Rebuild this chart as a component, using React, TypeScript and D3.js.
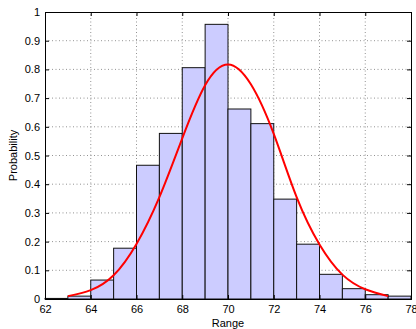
import React, { useEffect, useRef } from 'react';
import * as d3 from 'd3';

// histogram bins (left edge, width 1) and heights
const binStarts = [62, 63, 64, 65, 66, 67, 68, 69, 70, 71, 72, 73, 74, 75, 76, 77];
const binHeights = [0.002, 0.01, 0.066, 0.177, 0.466, 0.577, 0.806, 0.957, 0.662, 0.611, 0.348, 0.191, 0.086, 0.036, 0.015, 0.01];

// fitted curve
const curveX = [63, 64, 65, 66, 67, 68, 69, 70, 71, 72, 73, 74, 75, 76, 77];
const curveY = [0.01, 0.031, 0.083, 0.192, 0.355, 0.56, 0.745, 0.817, 0.748, 0.575, 0.355, 0.19, 0.085, 0.034, 0.01];

const xTicks = [62, 64, 66, 68, 70, 72, 74, 76, 78];
const yTicks = [0, 0.1, 0.2, 0.3, 0.4, 0.5, 0.6, 0.7, 0.8, 0.9, 1];

const W = 416, H = 329;
const margin = { top: 12, right: 5, bottom: 30, left: 45 };

const App = () => {
  const ref = useRef<SVGSVGElement>(null);

  useEffect(() => {
    const svg = d3.select(ref.current);
    svg.selectAll('*').remove();

    const x = d3.scaleLinear().domain([62, 78]).range([margin.left, W - margin.right]);
    const y = d3.scaleLinear().domain([0, 1]).range([H - margin.bottom, margin.top]);
    const font = 'Helvetica, Arial, "Liberation Sans", sans-serif';

    // grid
    const grid = svg.append('g').attr('stroke', '#777').attr('stroke-width', 0.8).attr('stroke-dasharray', '1,2.5');
    grid.selectAll('.gx').data(xTicks.slice(1, -1)).join('line')
      .attr('x1', d => x(d)).attr('x2', d => x(d))
      .attr('y1', y(0)).attr('y2', y(1));
    grid.selectAll('.gy').data(yTicks.slice(1, -1)).join('line')
      .attr('class', 'gy')
      .attr('x1', x(62)).attr('x2', x(78))
      .attr('y1', d => y(d)).attr('y2', d => y(d));

    // bars
    svg.append('g').selectAll('rect')
      .data(binStarts.map((s, i) => ({ s, h: binHeights[i] })))
      .join('rect')
        .attr('x', d => x(d.s))
        .attr('width', d => x(d.s + 1) - x(d.s))
        .attr('y', d => y(d.h))
        .attr('height', d => y(0) - y(d.h))
        .attr('fill', '#ccccff')
        .attr('stroke', '#111')
        .attr('stroke-width', 1);

    // curve
    const line = d3.line<number>()
      .x((d, i) => x(curveX[i]))
      .y(d => y(d))
      .curve(d3.curveNatural);
    svg.append('path')
      .attr('d', line(curveY))
      .attr('fill', 'none')
      .attr('stroke', '#ff0000')
      .attr('stroke-width', 2);

    // axes (ticks inward, boxed)
    const tl = 4;
    const bottom = svg.append('g').attr('transform', `translate(0,${y(0)})`)
      .call(d3.axisBottom(x).tickValues(xTicks).tickSize(-tl).tickPadding(6).tickFormat(d3.format('d')));
    const left = svg.append('g').attr('transform', `translate(${x(62)},0)`)
      .call(d3.axisLeft(y).tickValues(yTicks).tickSize(-tl).tickPadding(5).tickFormat(d => d === 0 || d === 1 ? String(d) : d3.format('.1f')(d as number)));
    const top = svg.append('g').attr('transform', `translate(0,${y(1)})`)
      .call(d3.axisTop(x).tickValues(xTicks).tickSize(-tl).tickFormat(() => ''));
    const right = svg.append('g').attr('transform', `translate(${x(78)},0)`)
      .call(d3.axisRight(y).tickValues(yTicks).tickSize(-tl).tickFormat(() => ''));
    [bottom, left, top, right].forEach(g => {
      g.selectAll('.domain').attr('stroke', '#000').attr('stroke-width', 1);
      g.selectAll('line').attr('stroke', '#000');
      g.selectAll('text').attr('font-family', font).attr('font-size', 11).attr('fill', '#000');
    });

    svg.append('text')
      .attr('x', (x(62) + x(78)) / 2).attr('y', 327)
      .attr('text-anchor', 'middle')
      .attr('font-family', font).attr('font-size', 11)
      .text('Range');
    svg.append('text')
      .attr('transform', `translate(17,${(y(0) + y(1)) / 2}) rotate(-90)`)
      .attr('text-anchor', 'middle')
      .attr('font-family', font).attr('font-size', 11)
      .text('Probability');
  }, []);

  return <svg ref={ref} width={W} height={H} style={{ position: 'absolute', left: 0, top: 0 }}></svg>;
};

export default App;
